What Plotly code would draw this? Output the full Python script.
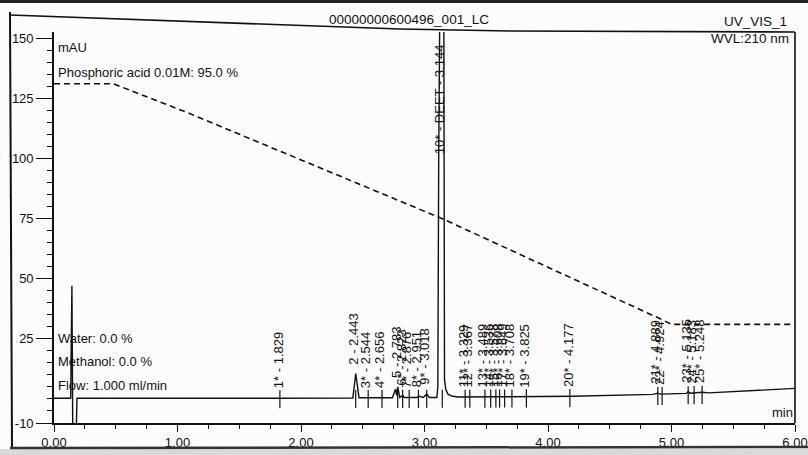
import numpy as np
import plotly.graph_objects as go

# ---------------- data ----------------
# chromatogram trace (time in min, signal in mAU)
trace_time = [0.000, 0.135, 0.145, 0.152, 0.180, 0.186, 1.800, 2.420, 2.443, 2.470,
              2.740, 2.765, 2.775, 2.783, 2.800, 2.823, 2.835, 2.940, 2.951, 2.990,
              3.018, 3.040, 3.100, 3.108, 3.115, 3.130, 3.144, 3.152, 3.157, 3.162,
              3.172, 3.190, 3.220, 3.270, 3.600, 4.200, 4.850, 4.889, 4.910, 5.120,
              5.135, 5.150, 5.248, 5.300, 6.000]
trace_mau = [0.3, 0.3, 47.0, -14.0, -14.0, 0.3, 0.3, 0.4, 10.5, 0.5,
             0.5, 4.0, 1.5, 5.0, 0.6, 1.5, 0.6, 0.6, 1.2, 0.6,
             2.0, 0.6, 0.6, 5.0, 100.0, 290.0, 300.0, 290.0, 60.0, 8.0,
             4.0, 2.0, 1.2, 0.8, 0.9, 1.1, 1.9, 2.4, 2.0, 2.3,
             3.0, 2.4, 2.8, 2.5, 4.4]

# baseline under the peaks (time, mAU)
baseline_time = [0.0, 3.6, 4.2, 4.85, 5.3, 6.0]
baseline_mau = [0.3, 0.9, 1.1, 1.9, 2.5, 4.4]

# gradient (Phosphoric acid %) dashed curve, in plot units
gradient_time = [0.00, 0.48, 1.08, 3.14, 4.90, 5.00, 6.00]
gradient_mau = [131.0, 131.0, 119.0, 75.0, 33.5, 31.0, 31.0]

# peak table
peak_ids = ["1*", "2", "3*", "4*", "5", "6*", "7*", "8*", "9*", "10*",
            "11*", "12*", "13*", "14*", "15*", "16*", "17*", "18*", "19*", "20*",
            "21*", "22*", "23*", "24*", "25*"]
peak_names = ["", "", "", "", "", "", "", "", "", "DEET",
              "", "", "", "", "", "", "", "", "", "",
              "", "", "", "", ""]
peak_rt = [1.829, 2.443, 2.544, 2.656, 2.783, 2.823, 2.876, 2.951, 3.018, 3.144,
           3.329, 3.367, 3.489, 3.536, 3.578, 3.608, 3.649, 3.708, 3.825, 4.177,
           4.889, 4.924, 5.135, 5.183, 5.248]

# axis ticks
x_ticks = [0, 1, 2, 3, 4, 5, 6]
x_ticktext = ["0.00", "1.00", "2.00", "3.00", "4.00", "5.00", "6.00"]
x_minor = [v / 4 for v in range(0, 25) if v % 4 != 0]
y_ticks = [-10, 25, 50, 75, 100, 125, 150]
y_ticktext = ["-10", "25", "50", "75", "100", "125", "150"]
y_minor = [v for v in range(-5, 151, 5) if v not in y_ticks]

# ---------------- layout geometry (designed in reference pixels) ----------------
K = 1.0                       # css px per reference px
W, H = 823, 463               # figure size in css px (window shows the top-left 808x455)
ML, MT = 54, 32               # plot-area left / top edge (reference px)
PR, PB = 795, 423             # plot-area right / bottom edge (reference px)
Y_RANGE = [-10, 152.5]
FONT = "Liberation Sans, Arial, sans-serif"
INK = "#111111"

m_l, m_t = ML * K, MT * K
m_r, m_b = W - PR * K, H - PB * K
PW, PH = W - m_l - m_r, H - m_t - m_b


def px(xref_px):
    return (xref_px * K - m_l) / PW


def py(yref_px):
    return (H - m_b - yref_px * K) / PH


def fs(size):
    return size * K


fig = go.Figure()

# chromatogram
fig.add_trace(go.Scatter(x=trace_time, y=trace_mau, mode="lines",
                         line=dict(color=INK, width=1.4 * K), hoverinfo="skip"))

# gradient dashed line
fig.add_trace(go.Scatter(x=gradient_time, y=gradient_mau, mode="lines",
                         line=dict(color=INK, width=1.6 * K, dash="6px,4px"), hoverinfo="skip"))

# peak tick marks and labels
base_at_rt = np.interp(peak_rt, baseline_time, baseline_mau)
sig_at_rt = np.interp(peak_rt, trace_time, trace_mau)
tx, ty = [], []
for rt, b in zip(peak_rt, base_at_rt):
    tx += [rt, rt, None]
    ty += [b - 4.5, b + 3.0, None]
fig.add_trace(go.Scatter(x=tx, y=ty, mode="lines",
                         line=dict(color=INK, width=1.2 * K), hoverinfo="skip"))

annotations = []
for pid, name, rt, b, s in zip(peak_ids, peak_names, peak_rt, base_at_rt, sig_at_rt):
    label = f"{pid} - {name} - {rt:.3f}" if name else f"{pid} - {rt:.3f}"
    top = max(s, b)
    ybase = 101 if top > Y_RANGE[1] else top + 3.0
    annotations.append(dict(x=rt, y=ybase, xref="x", yref="y", text=label,
                            textangle=-90, showarrow=False, xanchor="center",
                            yanchor="bottom", xshift=-2 * K,
                            font=dict(family=FONT, size=fs(13), color=INK)))


def txt(text, xpix, ypix, xanchor="left", size=13):
    annotations.append(dict(x=px(xpix), y=py(ypix), xref="paper", yref="paper",
                            text=text, showarrow=False, xanchor=xanchor,
                            yanchor="middle", font=dict(family=FONT, size=fs(size), color=INK)))


txt("mAU", 56, 47)
txt("Phosphoric acid 0.01M: 95.0 %", 56, 72)
txt("Water: 0.0 %", 56, 338)
txt("Methanol: 0.0 %", 56, 361)
txt("Flow: 1.000 ml/min", 56, 385)
txt("min", 795, 412, xanchor="right")
txt("00000000600496_001_LC", 409, 20, xanchor="center", size=13.5)
txt("UV_VIS_1", 789, 21, xanchor="right", size=13.5)
txt("WVL:210 nm", 791, 38, xanchor="right", size=13.5)

shapes = [
    # left edge of the printed frame
    dict(type="line", xref="paper", yref="paper", x0=px(10), y0=py(12), x1=px(12), y1=py(447),
         line=dict(color=INK, width=2 * K)),
    # top line of the frame (slightly skewed like the scan)
    dict(type="path", xref="paper", yref="paper",
         path=f"M {px(10)},{py(15)} L {px(400)},{py(29)} L {px(510)},{py(31)} L {px(795)},{py(32)}",
         line=dict(color=INK, width=1.6 * K)),
    # right border of the plot
    dict(type="line", xref="paper", yref="paper", x0=1, y0=0, x1=1, y1=py(32),
         line=dict(color=INK, width=1.6 * K)),
    # paper edges
    dict(type="line", xref="paper", yref="paper", x0=px(0), y0=py(1.5), x1=px(808), y1=py(1.5),
         line=dict(color="#222222", width=3 * K)),
    dict(type="line", xref="paper", yref="paper", x0=px(10), y0=py(448), x1=px(808), y1=py(447),
         line=dict(color="#333333", width=2.5 * K)),
    dict(type="rect", xref="paper", yref="paper", x0=px(0), y0=py(449), x1=px(823), y1=py(463),
         fillcolor="#d9d9d9", line=dict(width=0), layer="below"),
]

fig.update_layout(
    width=W, height=H,
    margin=dict(l=m_l, r=m_r, t=m_t, b=m_b, pad=0, autoexpand=False),
    paper_bgcolor="#fcfcfc", plot_bgcolor="#fcfcfc",
    showlegend=False,
    annotations=annotations,
    shapes=shapes,
    xaxis=dict(range=[0, 6], showgrid=False, zeroline=False, automargin=False,
               showline=True, linecolor=INK, linewidth=1.6 * K,
               tickmode="array", tickvals=x_ticks, ticktext=x_ticktext,
               ticks="outside", ticklen=7 * K, tickwidth=1.3 * K, tickcolor=INK,
               minor=dict(tickmode="array", tickvals=x_minor, ticks="outside",
                          ticklen=4 * K, tickwidth=1.2 * K, tickcolor=INK, showgrid=False),
               tickfont=dict(family=FONT, size=fs(13), color=INK)),
    yaxis=dict(range=Y_RANGE, showgrid=False, zeroline=False, automargin=False,
               showline=True, linecolor=INK, linewidth=1.6 * K,
               tickmode="array", tickvals=y_ticks, ticktext=y_ticktext,
               ticks="outside", ticklen=16 * K, tickwidth=1.3 * K, tickcolor=INK,
               minor=dict(tickmode="array", tickvals=y_minor, ticks="outside",
                          ticklen=5 * K, tickwidth=1.2 * K, tickcolor=INK, showgrid=False),
               tickfont=dict(family=FONT, size=fs(13), color=INK)),
)

fig.write_html(
    "out.html",
    config={"displayModeBar": False},
    post_script=("document.documentElement.style.margin='0';"
                 "document.documentElement.style.overflow='hidden';"
                 "document.body.style.margin='0';"
                 "document.body.style.overflow='hidden';"),
)
